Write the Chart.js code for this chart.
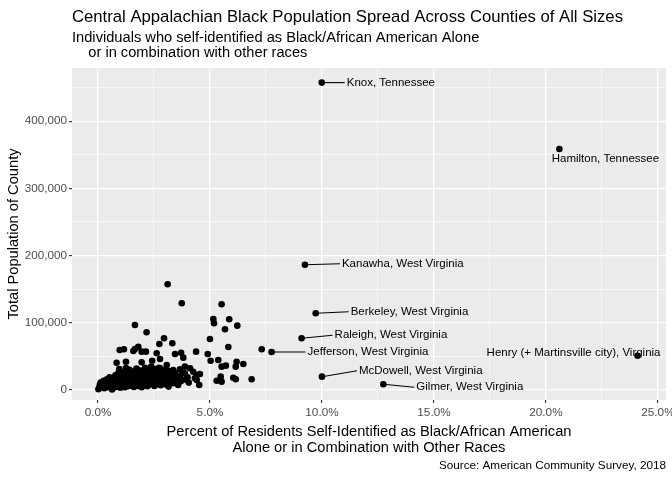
<!DOCTYPE html>
<html>
<head>
<meta charset="utf-8">
<script src="https://cdn.jsdelivr.net/npm/chart.js@4.4.0/dist/chart.umd.min.js"></script>
<style>
  html, body { margin: 0; padding: 0; background: #ffffff; }
  #wrap { width: 672px; height: 480px; }
</style>
</head>
<body>
<div id="wrap"><canvas id="c" width="672" height="480"></canvas></div>
<script>
// ---------------- DATA ----------------
const chartTitle = "Central Appalachian Black Population Spread Across Counties of All Sizes";
const subtitleLines = ["Individuals who self-identified as Black/African American Alone", "    or in combination with other races"];
const xTitleLines = ["Percent of Residents Self-Identified as Black/African American", "Alone or in Combination with Other Races"];
const yTitle = "Total Population of County";
const caption = "Source: American Community Survey, 2018";

// percent of residents Black (alone or in combination), per county
const pctBlack = [
  // labelled counties
  9.99, 20.6, 9.24, 9.72, 9.09, 7.75, 10.0, 12.74, 24.09,
  // mid-range counties
  3.11, 3.74, 5.52, 1.65, 2.17, 5.15, 5.18, 5.86, 5.67, 6.22,
  5.00, 5.82, 7.31, 2.95, 2.74, 3.32, 0.97, 1.16, 1.65, 1.80,
  1.58, 1.95, 2.14, 2.62, 2.77, 3.44, 3.71, 3.81, 4.38, 4.90,
  5.03, 5.37, 0.83, 1.25, 1.95, 2.42, 5.52, 5.71, 6.15, 6.19,
  6.49, 6.86, 5.30, 5.48, 6.04, 6.15, 5.52,
  3.07, 2.77, 2.92, 3.14, 3.36, 3.44, 3.66, 3.88, 4.11, 4.25,
  4.41, 4.55, 4.33, 4.52, 3.66, 3.88, 3.36, 3.58, 3.07, 3.21, 4.41,
  // small counties cluster
  0.02, 0.63, 0.05, 0.08, 0.12, 0.15, 0.20, 0.25, 0.28, 0.30,
  0.35, 0.40, 0.42, 0.45, 0.50, 0.52, 0.55, 0.60, 0.62, 0.65,
  0.70, 0.72, 0.75, 0.78, 0.80, 0.82, 0.85, 0.88, 0.90, 0.92,
  0.95, 0.98, 1.00, 1.02, 1.05, 1.08, 1.10, 1.12, 1.15, 1.18,
  1.20, 1.22, 1.25, 1.28, 1.30, 1.32, 1.35, 1.38, 1.40, 1.42,
  1.45, 1.48, 1.50, 1.52, 1.55, 1.58, 1.60, 1.62, 1.65, 1.68,
  1.70, 1.72, 1.75, 1.78, 1.80, 1.82, 1.85, 1.88, 1.90, 1.92,
  1.95, 1.98, 2.00, 2.02, 2.05, 2.08, 2.10, 2.12, 2.15, 2.18,
  2.20, 2.22, 2.25, 2.28, 2.30, 2.32, 2.35, 2.38, 2.40, 2.42,
  2.45, 2.48, 2.50, 2.52, 2.55, 2.58, 2.60, 2.62, 2.65, 2.68,
  2.70, 2.72, 2.75, 2.78, 2.80, 2.85, 2.88, 2.90, 2.95, 3.00,
  3.05, 3.10, 3.15, 3.20, 3.25, 3.30, 3.40, 3.50, 3.55, 3.70,
  3.75, 3.90, 4.00, 4.05, 0.95, 1.25
];
// total county population
const totalPop = [
  457300, 358600, 186400, 114100, 76900, 56500, 19800, 8500, 51000,
  157300, 129000, 127500, 96700, 85900, 105600, 99200, 105200, 90300, 95700,
  75900, 64000, 60600, 76900, 68400, 69500, 59500, 60600, 61000, 64400,
  58000, 57000, 57000, 54600, 46100, 53600, 55500, 48100, 57000, 53600,
  43600, 44600, 40600, 42100, 41200, 43600, 34700, 36200, 34700, 42100,
  38700, 15900, 13800, 19800, 18300, 15900, 12400,
  37200, 32300, 29800, 28700, 29800, 24800, 30800, 34700, 32300, 27200,
  22300, 23800, 17400, 7400, 19800, 24800, 10000, 7400, 12400, 19800, 14900,
  1200, 800, 3000, 7500, 11000, 4500, 9000, 13500, 2500, 6500,
  10500, 16000, 4000, 8000, 12500, 19000, 5500, 9500, 15000, 2500,
  7000, 11500, 18000, 22000, 4500, 13500, 8500, 17000, 25000, 6000,
  11000, 20000, 3500, 14500, 9000, 23000, 6500, 17500, 12000, 27000,
  4000, 20500, 8000, 15000, 11000, 24000, 5500, 18500, 30000, 9500,
  13500, 22000, 7000, 16000, 27500, 11500, 4500, 20000, 8500, 14000,
  25000, 32000, 10500, 18000, 6000, 22500, 13000, 29000, 9000, 16500,
  4000, 21000, 12000, 26000, 7500, 17500, 33000, 10000, 14500, 23000,
  5500, 19000, 28500, 11500, 8000, 15500, 24000, 35000, 13000, 20000,
  9500, 27000, 16500, 6000, 31000, 12500, 22000, 18500, 9000, 26000,
  14000, 33000, 11000, 20500, 7000, 16000, 24500, 12500, 19000, 8500,
  22500, 15000, 5000, 26000, 13500, 18500, 21000, 12000, 16500, 13000,
  25500, 15500, 19000, 11000, 31000, 32500
];

// labelled counties
const labelNames = ["Knox, Tennessee", "Hamilton, Tennessee", "Kanawha, West Virginia", "Berkeley, West Virginia",
  "Raleigh, West Virginia", "Jefferson, West Virginia", "McDowell, West Virginia", "Gilmer, West Virginia",
  "Henry (+ Martinsville city), Virginia"];
const labelPct = [9.99, 20.6, 9.24, 9.72, 9.09, 7.75, 10.0, 12.74, 24.09];
const labelPop = [457300, 358600, 186400, 114100, 76900, 56500, 19800, 8500, 51000];

// tick values (major + minor)
const xTickValues = [0, 2.5, 5, 7.5, 10, 12.5, 15, 17.5, 20, 22.5, 25];
const yTickValues = [0, 50000, 100000, 150000, 200000, 250000, 300000, 350000, 400000, 450000];

// ---------------- LAYOUT / STYLE ----------------
const FONT = "'Liberation Sans', Arial, Helvetica, sans-serif";
// label placement relative to point, pixels: [dx, dy, align]
const labelPlacement = [
  [25, 0, 'left'], [46, 10, 'center'], [37, -1, 'left'], [35, -1.5, 'left'],
  [33, -3, 'left'], [36, 0, 'left'], [37, -6, 'left'], [33, 3, 'left'], [-64, -2.5, 'center']
];

const points = pctBlack.map((x, i) => ({ x: x, y: totalPop[i] }));
const isMajorX = v => Math.abs(v / 5 - Math.round(v / 5)) < 1e-6;
const isMajorY = v => v % 100000 === 0;

const panelBg = {
  id: 'panelBg',
  beforeDraw(chart) {
    const { ctx, chartArea: a } = chart;
    ctx.save();
    ctx.fillStyle = '#EBEBEB';
    ctx.fillRect(a.left, a.top, a.right - a.left, a.bottom - a.top);
    ctx.restore();
  }
};

const annotations = {
  id: 'annotations',
  afterDatasetsDraw(chart) {
    const { ctx, scales } = chart;
    const xs = scales.x, ys = scales.y;
    ctx.save();
    ctx.font = '11.5px ' + FONT;
    ctx.textBaseline = 'middle';
    labelNames.forEach((name, i) => {
      const px = xs.getPixelForValue(labelPct[i]);
      const py = ys.getPixelForValue(labelPop[i]);
      const [dx, dy, align] = labelPlacement[i];
      if (align === 'left') {
        ctx.strokeStyle = '#000';
        ctx.lineWidth = 1.1;
        ctx.beginPath();
        ctx.moveTo(px, py);
        ctx.lineTo(px + dx - 2, py + dy);
        ctx.stroke();
      }
      ctx.fillStyle = '#000';
      ctx.textAlign = align;
      ctx.fillText(name, px + dx, py + dy);
    });
    ctx.restore();
  },
  afterDraw(chart) {
    const { ctx, chartArea: a } = chart;
    ctx.save();
    ctx.fillStyle = '#000';
    ctx.textBaseline = 'middle';
    ctx.textAlign = 'left';
    ctx.font = '16.7px ' + FONT;
    ctx.fillText(chartTitle, a.left, 17);
    ctx.font = '14.67px ' + FONT;
    ctx.fillText(subtitleLines[0], a.left, 38);
    ctx.fillText(subtitleLines[1], a.left, 53);
    ctx.textAlign = 'center';
    const cx = (a.left + a.right) / 2;
    ctx.fillText(xTitleLines[0], cx, 432);
    ctx.fillText(xTitleLines[1], cx, 448);
    ctx.save();
    ctx.translate(14, (a.top + a.bottom) / 2);
    ctx.rotate(-Math.PI / 2);
    ctx.fillText(yTitle, 0, 0);
    ctx.restore();
    ctx.font = '11.73px ' + FONT;
    ctx.textAlign = 'right';
    ctx.fillText(caption, a.right, 466);
    ctx.restore();
  }
};

new Chart(document.getElementById('c'), {
  type: 'scatter',
  data: {
    datasets: [{
      data: points,
      pointRadius: 3.3,
      pointHoverRadius: 3.3,
      pointBackgroundColor: '#000',
      pointBorderWidth: 0,
      borderColor: '#000'
    }]
  },
  options: {
    responsive: false,
    animation: false,
    events: [],
    layout: { padding: { top: 68, right: 6, bottom: 0, left: 0 } },
    plugins: { legend: { display: false }, tooltip: { enabled: false }, title: { display: false } },
    scales: {
      x: {
        type: 'linear',
        min: -1.16,
        max: 25.36,
        afterFit(s) { s.height = 80; s.paddingLeft = 0; s.paddingRight = 0; },
        afterBuildTicks(s) { s.ticks = xTickValues.map(v => ({ value: v })); },
        border: { display: false },
        grid: {
          color: '#FFFFFF',
          lineWidth: c => isMajorX(c.tick.value) ? 1.2 : 0.6,
          tickColor: c => isMajorX(c.tick.value) ? '#333333' : 'rgba(0,0,0,0)',
          tickWidth: c => isMajorX(c.tick.value) ? 1.1 : 0,
          tickLength: 3,
          drawTicks: true
        },
        ticks: {
          autoSkip: false,
          maxRotation: 0,
          padding: 3,
          color: '#4D4D4D',
          font: { family: FONT, size: 11.73 },
          callback: v => isMajorX(v) ? v.toFixed(1) + '%' : ''
        }
      },
      y: {
        type: 'linear',
        min: -14900,
        max: 479000,
        afterFit(s) { s.width = 72; s.paddingTop = 0; s.paddingBottom = 0; },
        afterBuildTicks(s) { s.ticks = yTickValues.map(v => ({ value: v })); },
        border: { display: false },
        grid: {
          color: '#FFFFFF',
          lineWidth: c => isMajorY(c.tick.value) ? 1.2 : 0.6,
          tickColor: c => isMajorY(c.tick.value) ? '#333333' : 'rgba(0,0,0,0)',
          tickWidth: c => isMajorY(c.tick.value) ? 1.1 : 0,
          tickLength: 3,
          drawTicks: true
        },
        ticks: {
          autoSkip: false,
          padding: 2,
          color: '#4D4D4D',
          font: { family: FONT, size: 11.73 },
          callback: v => isMajorY(v) ? v.toLocaleString('en-US') : ''
        }
      }
    }
  },
  plugins: [panelBg, annotations]
});
</script>
</body>
</html>
